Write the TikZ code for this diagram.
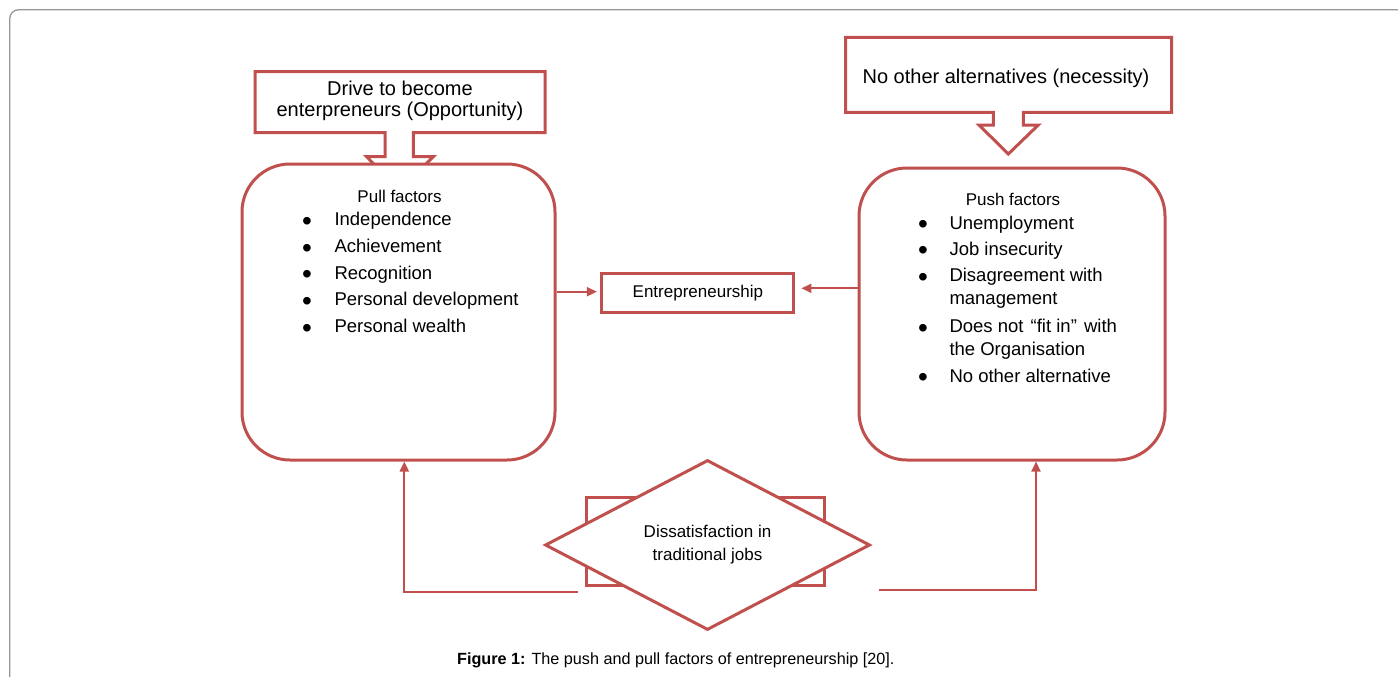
\documentclass[tikz,border=0pt]{standalone}
\usepackage{fontspec}
\setmainfont{Liberation Sans}
\usetikzlibrary{shapes.geometric,arrows.meta}
\definecolor{boxred}{RGB}{192,80,77}
\definecolor{framegray}{RGB}{150,150,150}
\newcommand{\bul}{\makebox[0pt]{\raisebox{-4.6pt}{\fontsize{28}{28}\selectfont •}}}
\begin{document}
\begin{tikzpicture}[x=1pt,y=-1pt,
  redline/.style={draw=boxred,line width=3pt},
  roundbox/.style={redline,fill=white,rounded corners=48pt,inner sep=0pt},
  conn/.style={draw=boxred,line width=2pt,-{Triangle[length=10pt,width=9pt]}},
  big/.style={font=\fontsize{20}{20.3}\selectfont},
  item/.style={font=\fontsize{18.5}{23}\selectfont,inner sep=0pt},
  small/.style={font=\fontsize{17}{23}\selectfont}]
\useasboundingbox (0,0) rectangle (1398,677);
\draw[framegray,line width=1.3pt,rounded corners=9pt] (9.7,700) -- (9.7,9.7) -- (1420,9.7);

% callouts
\draw[redline,line join=miter] (385,156.7) -- (385,132.7) -- (255,132.7) -- (255,71.7) -- (545,71.7) -- (545,132.7) -- (413.3,132.7) -- (413.3,156.7) -- (433.3,156.7) -- (399.2,190.8) -- (366.7,156.7) -- cycle;
\draw[redline,line join=miter] (993.3,125) -- (993.3,112.3) -- (845.7,112.3) -- (845.7,37.3) -- (1171.7,37.3) -- (1171.7,112.3) -- (1023.3,112.3) -- (1023.3,125) -- (1038.3,125) -- (1008.3,154) -- (979,125) -- cycle;
\node[big,align=center,inner sep=0pt] (drive) at (400,100.8) {Drive to become\\enterpreneurs (Opportunity)};
\node[big,anchor=base,inner sep=0pt] (noalt) at (1006,84) {No other alternatives (necessity)};

% factor boxes
\node[roundbox,minimum width=313pt,minimum height=296pt] (pull) at (398.5,312) {};
\node[roundbox,minimum width=306pt,minimum height=292pt] (push) at (1012,314) {};
\node[small,anchor=base,inner sep=0pt] (pulltitle) at (399.5,202) {Pull factors};
\node[small,anchor=base,inner sep=0pt] (pushtitle) at (1013,205) {Push factors};
\node[item,anchor=base west] (pulllist) at (306.7,225.7) {%
\begin{tabular}[t]{@{}l@{\hspace{27.6pt}}l@{}}
\bul & Independence\\[3.7pt]
\bul & Achievement\\[3.7pt]
\bul & Recognition\\[3.7pt]
\bul & Personal development\\[3.7pt]
\bul & Personal wealth
\end{tabular}};
\node[item,anchor=base west] (pushlist) at (922.7,229.3) {%
\begin{tabular}[t]{@{}l@{\hspace{26.6pt}}l@{}}
\bul & Unemployment\\[2.7pt]
\bul & Job insecurity\\[3.7pt]
\bul & Disagreement with\\
     & management\\[4.7pt]
\bul & Does not\hspace{2pt} “fit in”\hspace{2pt} with\\
     & the Organisation\\[3.7pt]
\bul & No other alternative
\end{tabular}};

% centre
\node[redline,minimum width=192pt,minimum height=39.4pt,inner sep=0pt,small] (entre) at (697.9,293) {Entrepreneurship};
\path (pull.east |- entre.center) ++(0,-1.3) coordinate (pe);
\path (push.west |- entre.center) ++(0,-4.7) coordinate (pw);
\draw[conn,shorten >=3.5pt] (pe) -- (pe -| entre.west);
\draw[conn,shorten >=6pt] (pw) -- (pw -| entre.east);

% dissatisfaction
\node[redline,minimum width=238.3pt,minimum height=88pt,inner sep=0pt] (dissbg) at (705.8,541.7) {};
\node[diamond,redline,fill=white,minimum width=325pt,minimum height=170pt,inner sep=0pt,align=center,small] (diss) at (707.5,545) {Dissatisfaction in\\traditional jobs};
\coordinate (lfoot) at (578,591.5);
\coordinate (rfoot) at (879,590);
\draw[conn] (lfoot) -| ([xshift=5.8pt]pull.south);
\draw[conn] (rfoot) -| ([xshift=24pt]push.south);

% caption
\node[font=\fontsize{16.2}{20}\selectfont,anchor=base,inner sep=0pt] (caption) at (675.8,664) {\textbf{Figure 1:} The push and pull factors of entrepreneurship [20].};
\end{tikzpicture}
\end{document}
